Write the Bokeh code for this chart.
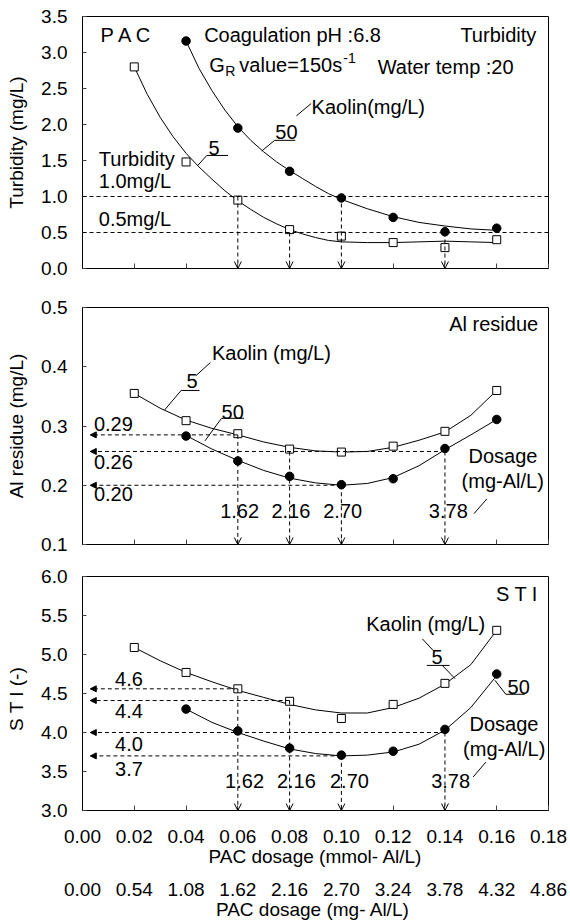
from bokeh.plotting import figure
from bokeh.layouts import column
from bokeh.models import (Range1d, LinearAxis, FixedTicker, PrintfTickFormatter,
                          Label, Arrow, OpenHead, NormalHead, ColumnDataSource, Span)
from bokeh.embed import file_html
from bokeh.resources import INLINE

FONT = "Liberation Sans"
TICK_FS = "19px"
TITLE_FS = "19px"
TXT_FS = "20px"

# ---------------- data ----------------
mmol_ticks = [0.00, 0.02, 0.04, 0.06, 0.08, 0.10, 0.12, 0.14, 0.16, 0.18]
mg_ticks = [0.00, 0.54, 1.08, 1.62, 2.16, 2.70, 3.24, 3.78, 4.32, 4.86]

dose_k5 = [0.02, 0.04, 0.06, 0.08, 0.10, 0.12, 0.14, 0.16]
dose_k50 = [0.04, 0.06, 0.08, 0.10, 0.12, 0.14, 0.16]

# Turbidity (mg/L)
tur_k5 = [2.80, 1.48, 0.95, 0.54, 0.45, 0.36, 0.29, 0.40]
tur_k50 = [3.16, 1.95, 1.35, 0.98, 0.71, 0.51, 0.56]
tur_fit5_x = [0.02, 0.025, 0.03, 0.035, 0.04, 0.045, 0.05, 0.055, 0.06, 0.065, 0.07,
              0.075, 0.08, 0.085, 0.09, 0.095, 0.10, 0.11, 0.12, 0.13, 0.14, 0.15, 0.16]
tur_fit5_y = [2.80, 2.42, 2.10, 1.83, 1.60, 1.41, 1.24, 1.08, 0.94, 0.82, 0.71,
              0.62, 0.54, 0.48, 0.43, 0.39, 0.37, 0.36, 0.36, 0.37, 0.38, 0.37, 0.36]
tur_fit50_x = [0.04, 0.045, 0.05, 0.055, 0.06, 0.065, 0.07, 0.075, 0.08, 0.085, 0.09,
               0.095, 0.10, 0.11, 0.12, 0.13, 0.14, 0.15, 0.16]
tur_fit50_y = [3.16, 2.78, 2.47, 2.20, 1.97, 1.78, 1.62, 1.48, 1.36, 1.25, 1.14,
               1.04, 0.96, 0.83, 0.72, 0.64, 0.59, 0.55, 0.53]
tur_limits = [1.0, 0.5]
tur_guide_x = [0.06, 0.08, 0.10, 0.14]
tur_guide_y = [1.0, 0.5, 1.0, 0.5]

# Al residue (mg/L)
al_k5 = [0.355, 0.309, 0.287, 0.261, 0.256, 0.266, 0.291, 0.360]
al_k50 = [0.283, 0.241, 0.215, 0.201, 0.211, 0.262, 0.311]
al_fit5_x = [0.02, 0.03, 0.04, 0.05, 0.06, 0.07, 0.08, 0.09, 0.10, 0.11, 0.12, 0.13, 0.14, 0.15, 0.16]
al_fit5_y = [0.355, 0.330, 0.310, 0.296, 0.285, 0.273, 0.264, 0.258, 0.256, 0.257, 0.264, 0.276, 0.290, 0.318, 0.360]
al_fit50_x = [0.04, 0.05, 0.06, 0.07, 0.08, 0.09, 0.10, 0.11, 0.12, 0.13, 0.14, 0.15, 0.16]
al_fit50_y = [0.284, 0.261, 0.242, 0.225, 0.212, 0.204, 0.200, 0.203, 0.213, 0.233, 0.260, 0.285, 0.311]
al_h_x = [0.06, 0.14, 0.10]
al_h_y = [0.285, 0.257, 0.200]
al_v_x = [0.06, 0.08, 0.10, 0.14]
al_v_y = [0.285, 0.257, 0.200, 0.257]

# STI (-)
sti_k5 = [5.09, 4.77, 4.56, 4.40, 4.18, 4.36, 4.63, 5.31]
sti_k50 = [4.30, 4.02, 3.80, 3.71, 3.76, 4.04, 4.75]
sti_fit5_x = [0.02, 0.03, 0.04, 0.05, 0.06, 0.07, 0.08, 0.09, 0.10, 0.11, 0.12, 0.13, 0.14, 0.15, 0.16]
sti_fit5_y = [5.09, 4.92, 4.77, 4.65, 4.54, 4.45, 4.36, 4.29, 4.25, 4.25, 4.32, 4.44, 4.62, 4.87, 5.31]
sti_fit50_x = [0.04, 0.05, 0.06, 0.07, 0.08, 0.09, 0.10, 0.11, 0.12, 0.13, 0.14, 0.15, 0.16]
sti_fit50_y = [4.30, 4.13, 4.00, 3.89, 3.79, 3.73, 3.70, 3.71, 3.75, 3.85, 4.03, 4.32, 4.73]
sti_guide_x = [0.06, 0.08, 0.14, 0.10]
sti_guide_y = [4.56, 4.41, 4.00, 3.70]

x_range = Range1d(0.0, 0.18)


def make_fig(y_range, yticks, ylabel, height, top, bottom):
    p = figure(width=570, height=height, x_range=x_range, y_range=y_range,
               output_backend="svg", toolbar_location=None,
               min_border_left=82, min_border_right=22,
               min_border_top=top, min_border_bottom=bottom)
    p.grid.visible = False
    p.outline_line_color = "black"
    p.outline_line_width = 1
    p.background_fill_color = "white"
    p.border_fill_color = "white"
    for ax in p.xaxis:
        ax.ticker = FixedTicker(ticks=mmol_ticks)
        ax.formatter = PrintfTickFormatter(format="%.2f")
        ax.major_tick_in = 5
        ax.major_tick_out = 0
        ax.minor_tick_line_color = None
        ax.axis_line_color = "black"
        ax.major_tick_line_color = "#444444"
        ax.major_label_text_font = FONT
        ax.major_label_text_font_size = TICK_FS
        ax.major_label_text_color = "black"
    for ax in p.yaxis:
        ax.ticker = FixedTicker(ticks=yticks)
        ax.formatter = PrintfTickFormatter(format="%.1f")
        ax.major_tick_in = 4
        ax.major_tick_out = 0
        ax.minor_tick_line_color = None
        ax.axis_line_color = "black"
        ax.major_tick_line_color = "#444444"
        ax.major_label_text_font = FONT
        ax.major_label_text_font_size = TICK_FS
        ax.major_label_text_color = "black"
        ax.major_label_standoff = 15
        ax.axis_label = ylabel
        ax.axis_label_text_font = FONT
        ax.axis_label_text_font_size = TITLE_FS
        ax.axis_label_text_font_style = "normal"
        ax.axis_label_text_color = "black"
        ax.axis_label_standoff = 11
    return p


def hide_x_labels(p):
    for ax in p.xaxis:
        ax.major_label_text_font_size = "0px"
        ax.major_label_standoff = 0


def label(p, x, y, text, align="left", size=TXT_FS, xo=0, yo=0):
    p.add_layout(Label(x=x, y=y, text=text, text_font=FONT, text_font_size=size,
                       text_align=align, text_baseline="middle", text_color="black",
                       x_offset=xo, y_offset=yo))


def lines(p, x0, y0, x1, y1):
    p.segment(x0=x0, y0=y0, x1=x1, y1=y1, line_color="black", line_width=1)


def arrows(p, xs, ys, xe, ye, head):
    src = ColumnDataSource(dict(xs=xs, ys=ys, xe=xe, ye=ye))
    p.add_layout(Arrow(source=src, x_start="xs", y_start="ys", x_end="xe", y_end="ye",
                       line_color="black", line_width=1, line_dash="4 3", end=head))


def series(p, fx5, fy5, fx50, fy50, y5, y50):
    p.line(fx5, fy5, line_color="black", line_width=1)
    p.line(fx50, fy50, line_color="black", line_width=1)
    p.scatter(dose_k5, y5, marker="square", size=8, fill_color="white",
              line_color="black", line_width=1)
    p.scatter(dose_k50, y50, marker="circle", size=8.5, fill_color="black",
              line_color="black")


def open_head():
    return OpenHead(size=7, line_color="black", line_width=1)


def filled_head():
    return NormalHead(size=6, fill_color="black", line_color="black", line_width=1)


# ---------------- Panel 1: turbidity ----------------
p1 = make_fig(Range1d(0.0, 3.5), [0, 0.5, 1.0, 1.5, 2.0, 2.5, 3.0, 3.5],
              "Turbidity (mg/L)", 283, 16, 15)
hide_x_labels(p1)
for lim in tur_limits:
    p1.add_layout(Span(location=lim, dimension="width", line_color="black",
                       line_width=1, line_dash="4 3"))
arrows(p1, tur_guide_x, tur_guide_y, tur_guide_x, [0.0] * len(tur_guide_x), open_head())
series(p1, tur_fit5_x, tur_fit5_y, tur_fit50_x, tur_fit50_y, tur_k5, tur_k50)
label(p1, 0.0070, 3.25, "P A C")
label(p1, 0.0470, 3.25, "Coagulation pH :6.8")
label(p1, 0.1753, 3.25, "Turbidity", align="right")
label(p1, 0.0490, 2.82, "G")
label(p1, 0.0490, 2.82, "R", size="14px", xo=16, yo=-6)
label(p1, 0.0490, 2.82, "value=150s", xo=30)
label(p1, 0.0490, 2.82, "-1", size="14px", xo=134, yo=7)
label(p1, 0.1140, 2.80, "Water temp :20")
label(p1, 0.0885, 2.25, "Kaolin(mg/L)")
label(p1, 0.0745, 1.90, "50")
label(p1, 0.0487, 1.68, "5")
label(p1, 0.0063, 1.52, "Turbidity")
label(p1, 0.0063, 1.22, "1.0mg/L")
label(p1, 0.0063, 0.69, "0.5mg/L")
lines(p1, [0.0826, 0.0742, 0.0742, 0.0480, 0.0480],
      [2.12, 1.78, 1.78, 1.57, 1.57],
      [0.0883, 0.0822, 0.0692, 0.0562, 0.0445],
      [2.29, 1.78, 1.63, 1.57, 1.43])

# ---------------- Panel 2: Al residue ----------------
p2 = make_fig(Range1d(0.1, 0.5), [0.1, 0.2, 0.3, 0.4, 0.5],
              "Al residue (mg/L)", 277, 24, 16)
hide_x_labels(p2)
arrows(p2, al_h_x, al_h_y, [0.003] * len(al_h_x), al_h_y, filled_head())
arrows(p2, al_v_x, al_v_y, al_v_x, [0.1] * len(al_v_x), open_head())
series(p2, al_fit5_x, al_fit5_y, al_fit50_x, al_fit50_y, al_k5, al_k50)
label(p2, 0.176, 0.472, "Al residue", align="right")
label(p2, 0.0500, 0.424, "Kaolin (mg/L)")
label(p2, 0.0402, 0.376, "5")
label(p2, 0.0537, 0.323, "50")
label(p2, 0.0044, 0.303, "0.29")
label(p2, 0.0044, 0.239, "0.26")
label(p2, 0.0044, 0.185, "0.20")
for xx, tt in zip([0.0607, 0.0805, 0.1005, 0.1413], ["1.62", "2.16", "2.70", "3.78"]):
    label(p2, xx, 0.157, tt, align="center")
label(p2, 0.1624, 0.250, "Dosage", align="center")
label(p2, 0.1623, 0.208, "(mg-Al/L)", align="center")
lines(p2, [0.0438, 0.0381, 0.0381, 0.0537, 0.0537, 0.1512],
      [0.385, 0.360, 0.360, 0.313, 0.313, 0.152],
      [0.0494, 0.0452, 0.0317, 0.0624, 0.0473, 0.1562],
      [0.407, 0.360, 0.327, 0.313, 0.275, 0.177])

# ---------------- Panel 3: STI ----------------
p3 = make_fig(Range1d(3.0, 6.0), [3.0, 3.5, 4.0, 4.5, 5.0, 5.5, 6.0],
              "S T I   (-)", 362, 16, 112)
ax1 = p3.xaxis[0]
ax1.major_label_standoff = 19
ax1.axis_label = "PAC dosage (mmol- Al/L)"
ax1.axis_label_standoff = 0
ax1.axis_label_text_font = FONT
ax1.axis_label_text_font_size = TITLE_FS
ax1.axis_label_text_font_style = "normal"
ax1.axis_label_text_color = "black"

p3.extra_x_ranges = {"mg": Range1d(0.0, 4.86)}
ax2 = LinearAxis(x_range_name="mg", ticker=FixedTicker(ticks=mg_ticks),
                 formatter=PrintfTickFormatter(format="%.2f"),
                 axis_line_color=None, major_tick_line_color=None,
                 minor_tick_line_color=None, major_tick_out=0, major_tick_in=0,
                 major_label_standoff=13,
                 major_label_text_font=FONT, major_label_text_font_size=TICK_FS,
                 major_label_text_color="black",
                 axis_label="PAC dosage  (mg- Al/L)", axis_label_standoff=0,
                 axis_label_text_font=FONT, axis_label_text_font_size=TITLE_FS,
                 axis_label_text_font_style="normal", axis_label_text_color="black")
p3.add_layout(ax2, "below")

arrows(p3, sti_guide_x, sti_guide_y, [0.003] * len(sti_guide_x), sti_guide_y, filled_head())
arrows(p3, sti_guide_x, sti_guide_y, sti_guide_x, [3.0] * len(sti_guide_x), open_head())
series(p3, sti_fit5_x, sti_fit5_y, sti_fit50_x, sti_fit50_y, sti_k5, sti_k50)
label(p3, 0.176, 5.78, "S T I", align="right")
label(p3, 0.1096, 5.39, "Kaolin (mg/L)")
label(p3, 0.1348, 4.97, "5")
label(p3, 0.1642, 4.58, "50")
label(p3, 0.0126, 4.69, "4.6")
label(p3, 0.0126, 4.28, "4.4")
label(p3, 0.0126, 3.85, "4.0")
label(p3, 0.0126, 3.53, "3.7")
for xx, tt in zip([0.0626, 0.0826, 0.1031, 0.1422], ["1.62", "2.16", "2.70", "3.78"]):
    label(p3, xx, 3.38, tt, align="center")
label(p3, 0.1628, 4.11, "Dosage", align="center")
label(p3, 0.1629, 3.79, "(mg-Al/L)", align="center")
lines(p3, [0.1313, 0.1330, 0.1390, 0.1635, 0.1635, 0.1509],
      [5.20, 4.86, 4.86, 4.49, 4.49, 3.43],
      [0.1355, 0.1418, 0.1439, 0.1708, 0.1593, 0.1558],
      [5.05, 4.86, 4.69, 4.49, 4.67, 3.62])

layout = column(p1, p2, p3, spacing=0)
open("out.html", "w").write(file_html(layout, INLINE))
